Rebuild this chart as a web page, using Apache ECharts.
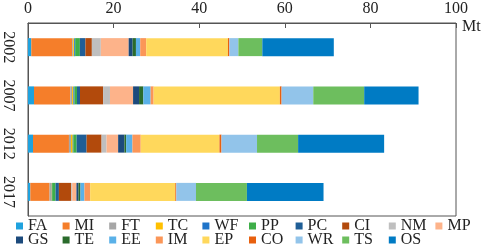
<!DOCTYPE html>
<html>
<head>
<meta charset="utf-8">
<script src="https://cdn.jsdelivr.net/npm/echarts@6/dist/echarts.min.js"></script>
<style>
  html, body { margin: 0; padding: 0; background: #fff; }
  #chart { width: 484px; height: 247px; }
</style>
</head>
<body>
<div id="chart"></div>
<script>
// years on the category axis
const years = ['2002', '2007', '2012', '2017']
const xTicks = [0, 20, 40, 60, 80, 100]

// Mt per sector, in order 2002, 2007, 2012, 2017
const FA = [0.77, 1.4, 1.17, 0.54]
const MI = [9.56, 8.5, 8.4, 4.5]
const FT = [0.23, 0.4, 0.47, 0.4]
const TC = [0.23, 0.3, 0.4, 0.1]
const WF = [0.23, 0.25, 0.15, 0.1]
const PP = [1.1, 0.6, 0.77, 0.8]
const PC = [1.3, 0.7, 2.33, 0.78]
const CI = [1.5, 5.4, 3.5, 2.87]
const NM = [2.1, 1.6, 1.17, 0.23]
const MP = [6.5, 5.4, 2.7, 1.0]
const GS = [0.93, 1.4, 1.47, 0.47]
const TE = [0.77, 1.0, 0.4, 0.47]
const EE = [1.0, 1.7, 1.47, 0.93]
const IM = [1.4, 0.7, 1.94, 1.33]
const EP = [19.1, 29.5, 18.4, 19.9]
const CO = [0.33, 0.4, 0.47, 0.23]
const WR = [2.1, 7.4, 8.3, 4.6]
const TS = [5.6, 11.9, 9.6, 11.9]
const OS = [16.7, 12.7, 20.1, 17.9]

const sectors = [
  ['FA', FA, '#1FA2DE'], ['MI', MI, '#F57E2A'], ['FT', FT, '#A6A6A6'],
  ['TC', TC, '#FFC000'], ['WF', WF, '#1F74C9'], ['PP', PP, '#3EAE49'],
  ['PC', PC, '#1F5E96'], ['CI', CI, '#B24A0C'], ['NM', NM, '#BFBFBF'],
  ['MP', MP, '#FDB38A'], ['GS', GS, '#1C4A7C'], ['TE', TE, '#2A6B2C'],
  ['EE', EE, '#5AB1E8'], ['IM', IM, '#FB9658'], ['EP', EP, '#FFD85C'],
  ['CO', CO, '#E8600F'], ['WR', WR, '#92C4EA'], ['TS', TS, '#6DBE5E'],
  ['OS', OS, '#007BC4']
]

const font = 'Liberation Serif, Times New Roman, serif'

const series = sectors.map(([name, data, color]) => ({
  name: name,
  type: 'bar',
  stack: 'total',
  barWidth: 18,
  itemStyle: { color: color },
  data: data
}))

// one legend per entry, on a fixed grid of 10 columns
const legends = sectors.map(([name], i) => ({
  left: 16 + (i % 10) * 46.6,
  top: i < 10 ? 218 : 232,
  icon: 'rect',
  itemWidth: 7,
  itemHeight: 7,
  padding: 0,
  data: [name],
  textStyle: { fontFamily: font, fontSize: 16, color: '#222' }
}))

const chart = echarts.init(document.getElementById('chart'))
chart.setOption({
  animation: false,
  textStyle: { fontFamily: font },
  grid: {
    left: 27, right: 28, top: 23, bottom: 31,
    show: true, borderColor: '#555', borderWidth: 1
  },
  legend: legends,
  xAxis: {
    type: 'value',
    position: 'top',
    min: xTicks[0],
    max: xTicks[xTicks.length - 1],
    interval: 20,
    name: 'Mt',
    nameGap: 6,
    nameTextStyle: { fontFamily: font, fontSize: 16, color: '#222', verticalAlign: 'top', padding: [-4, 0, 0, 0] },
    axisLine: { show: true, lineStyle: { color: '#555' } },
    axisTick: { show: true, inside: true, length: 5, lineStyle: { color: '#555' } },
    axisLabel: { fontFamily: font, fontSize: 16, color: '#222', margin: 6 },
    splitLine: { show: false }
  },
  yAxis: {
    type: 'category',
    inverse: true,
    data: years,
    axisLine: { show: true, lineStyle: { color: '#555' } },
    axisTick: { show: false },
    axisLabel: { fontFamily: font, fontSize: 16, color: '#222', rotate: -90, margin: 12 }
  },
  series: series
})
</script>
</body>
</html>
